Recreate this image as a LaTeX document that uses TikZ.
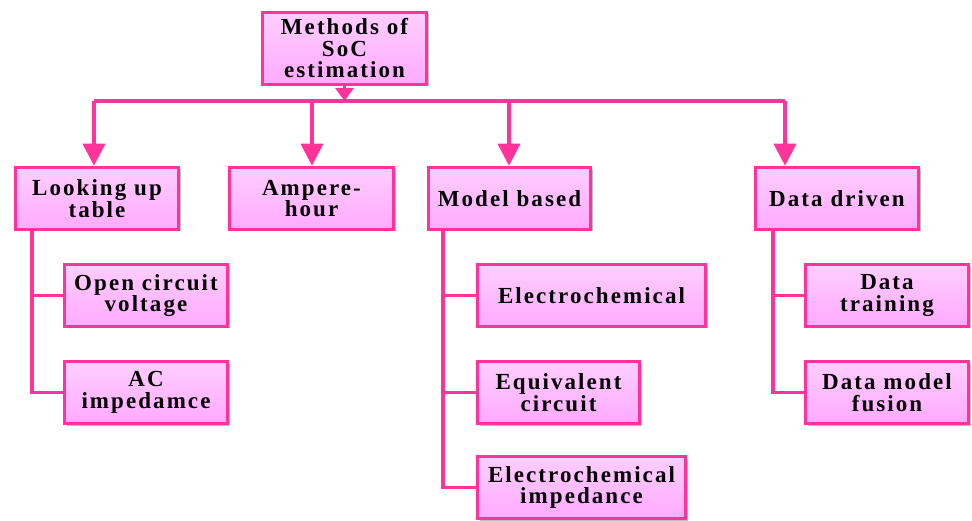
\documentclass[tikz,border=0pt]{standalone}
\usepackage{fontspec}
\setmainfont{Liberation Serif}
\newfontfamily\boxfont{Liberation Serif}[LetterSpace=9]
\usetikzlibrary{arrows.meta,shadows,calc}
\definecolor{socpink}{RGB}{255,51,153}
\definecolor{socfilltop}{RGB}{255,206,255}
\definecolor{socfillbot}{RGB}{255,170,255}
\tikzset{
  socbox/.style={draw=socpink, line width=3.5pt, top color=socfilltop, bottom color=socfillbot,
    minimum height=62pt, align=center, inner sep=0pt,
    font={\boxfont\bfseries\fontsize{23}{21.5}\selectfont},
    drop shadow={shadow xshift=2pt, shadow yshift=-2pt, opacity=0.25, fill=black}},
  link/.style={draw=socpink, line width=3.5pt},
  arr/.style={link, -{Triangle[width=22pt,length=22pt]}},
  arrsmall/.style={link, -{Triangle[width=18pt,length=13pt]}},
}
\begin{document}
\begin{tikzpicture}[x=1pt,y=-1pt]
\useasboundingbox (0,0) rectangle (972,521);
% root
\node[socbox, minimum width=164pt, minimum height=72pt] (methods) at (344.5,48.5) {Methods of\\SoC\\estimation};
% first level
\node[socbox, minimum width=163pt] (lookup) at (97,198.5) {Looking up\\table};
\node[socbox, minimum width=164pt] (ampere) at (311.5,198.5) {Ampere-\\hour};
\node[socbox, minimum width=162pt] (model) at (509.5,198.5) {Model based};
\node[socbox, minimum width=163pt] (data) at (837,198.5) {Data driven};
% second level
\node[socbox, minimum width=163pt] (ocv) at (146,295.5) {Open circuit\\voltage};
\node[socbox, minimum width=163pt] (acimp) at (146,392.5) {AC\\impedamce};
\node[socbox, minimum width=228pt] (echem) at (591.5,295.5) {Electrochemical};
\node[socbox, minimum width=162pt] (equiv) at (558.5,392.5) {Equivalent\\circuit};
\node[socbox, minimum width=208pt] (eis) at (581.5,487.5) {Electrochemical\\impedance};
\node[socbox, minimum width=163pt] (train) at (887,295.5) {Data\\training};
\node[socbox, minimum width=163pt] (fusion) at (887,392.5) {Data model\\fusion};
% bus
\coordinate (busL) at (94,101);
\coordinate (busR) at (785,101);
\draw[link] (busL) -- (busR);
\draw[arrsmall] (methods.south) -- (methods.south |- busL);
\foreach \bx/\nd in {94/lookup, 312/ampere, 509/model, 785/data}{
  \coordinate (b\nd) at (\bx,101);
  \draw[arr] (b\nd) -- (b\nd |- \nd.north);
}
% branches
\coordinate (tl) at ($(lookup.south west)+(18,0)$);
\draw[link] (tl) |- (ocv.west);
\draw[link] (tl) |- (acimp.west);
\coordinate (tm) at ($(model.south west)+(16,0)$);
\draw[link] (tm) |- (echem.west);
\draw[link] (tm) |- (equiv.west);
\draw[link] (tm) |- (eis.west);
\coordinate (td) at ($(data.south west)+(19,0)$);
\draw[link] (td) |- (train.west);
\draw[link] (td) |- (fusion.west);
\end{tikzpicture}
\end{document}
